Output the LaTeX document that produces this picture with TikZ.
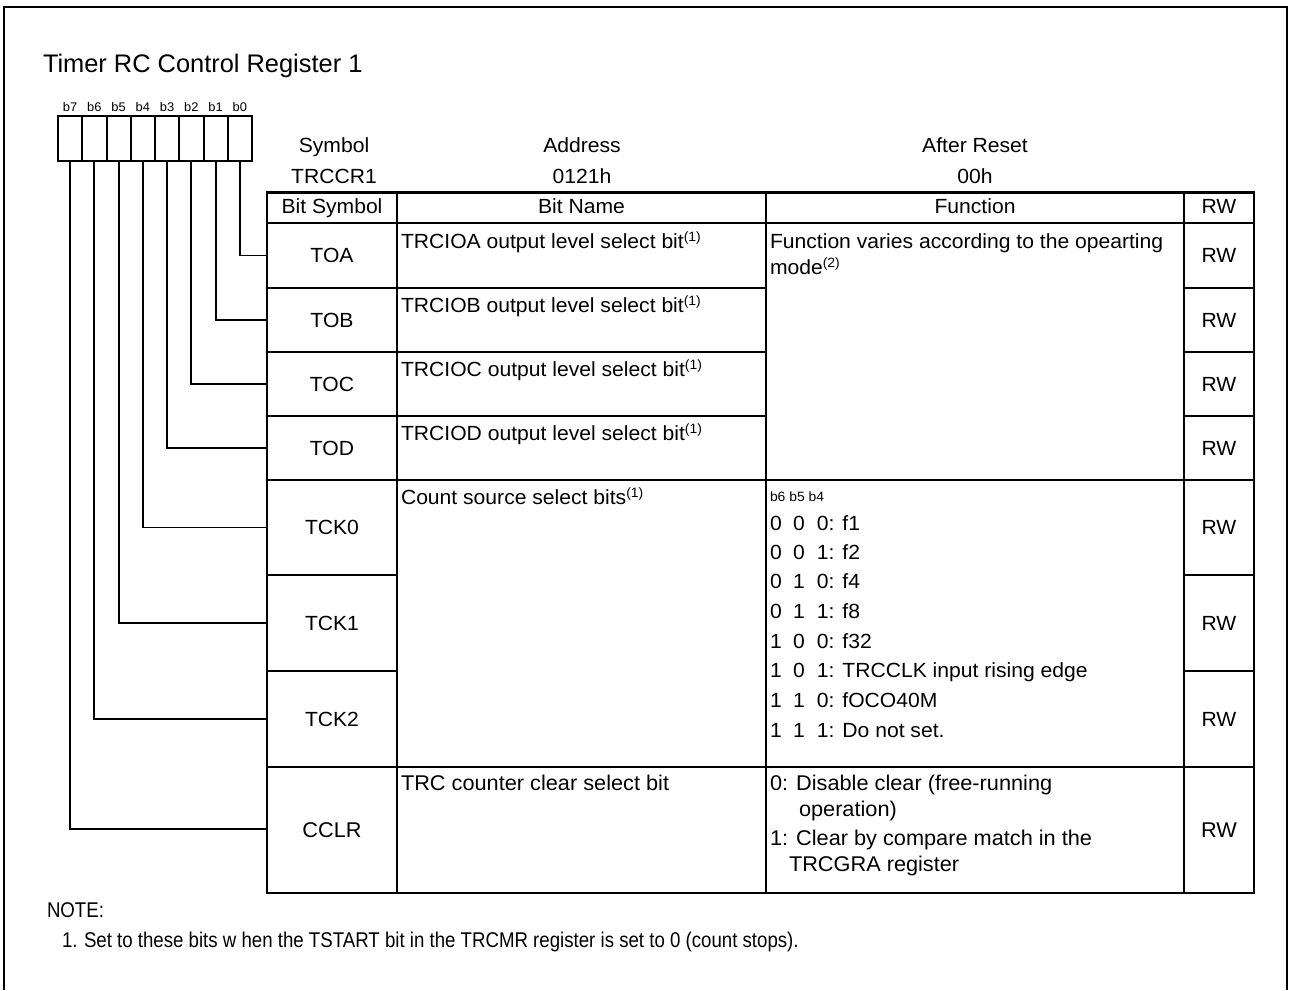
\documentclass[tikz,border=0pt]{standalone}
\usepackage{fontspec}
\setmainfont{Liberation Sans}[FakeStretch=1.03]
\newfontfamily\plainfont{Liberation Sans}
\newcommand\fnt{\fontsize{20.5}{24}\selectfont}
\newcommand\fnsm{\fontsize{12.5}{14}\selectfont}
\newcommand\fnsmb{\fontsize{13.5}{15}\selectfont}
\newcommand\fnttl{\plainfont\fontsize{25.4}{30}\selectfont}
\newcommand\fref[1]{\raisebox{7pt}{\fontsize{13.5}{14}\selectfont(#1)}}
\newcommand\bits[3]{\makebox[23pt][l]{#1}\makebox[24pt][l]{#2}#3}
\newcommand\wide[1]{\scalebox{1.06}[1.04]{\plainfont #1}}
\newcommand\narrow[1]{\scalebox{0.91}[1.04]{\plainfont #1}}
\begin{document}
\begin{tikzpicture}[x=1pt,y=-1pt,
  txt/.style={font=\fnt, inner sep=0pt, outer sep=0pt, anchor=base west},
  ctxt/.style={font=\fnt, inner sep=0pt, outer sep=0pt, anchor=base},
  cell/.style={draw, line width=2.4pt, inner sep=0pt, outer sep=0pt, anchor=north west, font=\fnt, text height=14.7pt, text depth=0pt},
  hcell/.style={cell, text height=15pt, text depth=4.5pt},
  bitcell/.style={draw, line width=2pt, inner sep=0pt, outer sep=0pt, anchor=north west, minimum width=24.25pt, minimum height=45pt},
  bitlbl/.style={font=\fnsm, inner sep=0pt, anchor=base},
  wire/.style={line width=1.8pt},
  frame/.style={line width=1.5pt}]
\useasboundingbox (0,0) rectangle (1289,990);
\draw[frame] (4,990) -- (4,7) -- (1287,7) -- (1287,990);

\node[txt, font=\fnttl] (title) at (43,72) {Timer RC Control Register 1};

% bit boxes
\foreach \i in {0,...,7} {
  \node[bitcell] (b\i) at ({58+24.25*(7-\i)},116) {};
  \node[bitlbl] (lb\i) at ({58+24.25*(7-\i)+12.1},111) {b\i};
}
\draw[line width=2.7pt] (b7.north west) rectangle (b0.south east);

% header texts
\node[ctxt] (hsymbol) at (334,152) {Symbol};
\node[ctxt] (vsymbol) at (334,183) {TRCCR1};
\node[ctxt] (haddr) at (582,152) {Address};
\node[ctxt] (vaddr) at (582,183) {0121h};
\node[ctxt] (hreset) at (975,152) {After Reset};
\node[ctxt] (vreset) at (975,183) {00h};

% header row
\node[hcell, minimum width=130pt, minimum height=30.5pt] (hbs) at (267,192.5) {Bit Symbol};
\node[hcell, minimum width=369pt, minimum height=30.5pt] (hbn) at (397,192.5) {Bit Name};
\node[hcell, minimum width=418pt, minimum height=30.5pt] (hfn) at (766,192.5) {Function};
\node[hcell, minimum width=70pt, minimum height=30.5pt] (hrw) at (1184,192.5) {RW};

% bit symbol cells
\node[cell, minimum width=130pt, minimum height=65pt] (toa) at (267,223) {TOA};
\node[cell, minimum width=130pt, minimum height=64pt] (tob) at (267,288) {TOB};
\node[cell, minimum width=130pt, minimum height=64pt] (toc) at (267,352) {TOC};
\node[cell, minimum width=130pt, minimum height=64pt] (tod) at (267,416) {TOD};
\node[cell, minimum width=130pt, minimum height=95pt] (tck0) at (267,480) {TCK0};
\node[cell, minimum width=130pt, minimum height=96pt] (tck1) at (267,575) {TCK1};
\node[cell, minimum width=130pt, minimum height=96pt] (tck2) at (267,671) {TCK2};
\node[cell, minimum width=130pt, minimum height=126pt] (cclr) at (267,767) {\wide{CCLR}};

% connectors
\draw[wire] (b0.south) |- (toa.west);
\draw[wire] (b1.south) |- (tob.west);
\draw[wire] (b2.south) |- (toc.west);
\draw[wire] (b3.south) |- (tod.west);
\draw[wire] (b4.south) |- (tck0.west);
\draw[wire] (b5.south) |- (tck1.west);
\draw[wire] (b6.south) |- (tck2.west);
\draw[wire] (b7.south) |- ([yshift=1pt]cclr.west);

% RW cells
\node[cell, minimum width=70pt, minimum height=65pt] (rwa) at (1184,223) {RW};
\node[cell, minimum width=70pt, minimum height=64pt] (rwb) at (1184,288) {RW};
\node[cell, minimum width=70pt, minimum height=64pt] (rwc) at (1184,352) {RW};
\node[cell, minimum width=70pt, minimum height=64pt] (rwd) at (1184,416) {RW};
\node[cell, minimum width=70pt, minimum height=95pt] (rwk0) at (1184,480) {RW};
\node[cell, minimum width=70pt, minimum height=96pt] (rwk1) at (1184,575) {RW};
\node[cell, minimum width=70pt, minimum height=96pt] (rwk2) at (1184,671) {RW};
\node[cell, minimum width=70pt, minimum height=126pt] (rwcl) at (1184,767) {\wide{RW}};

% bit name cells
\node[cell, minimum width=369pt, minimum height=65pt] (na) at (397,223) {};
\node[cell, minimum width=369pt, minimum height=64pt] (nb) at (397,288) {};
\node[cell, minimum width=369pt, minimum height=64pt] (nc) at (397,352) {};
\node[cell, minimum width=369pt, minimum height=64pt] (nd) at (397,416) {};
\node[cell, minimum width=369pt, minimum height=287pt] (nk) at (397,480) {};
\node[cell, minimum width=369pt, minimum height=126pt] (ncl) at (397,767) {};

% function cells
\node[cell, minimum width=418pt, minimum height=257pt] (fo) at (766,223) {};
\node[cell, minimum width=418pt, minimum height=287pt] (fk) at (766,480) {};
\node[cell, minimum width=418pt, minimum height=126pt] (fcl) at (766,767) {};

% bit name texts
\node[txt] (tna) at (401,248) {TRCIOA output level select bit\fref{1}};
\node[txt] (tnb) at (401,312) {TRCIOB output level select bit\fref{1}};
\node[txt] (tnc) at (401,376) {TRCIOC output level select bit\fref{1}};
\node[txt] (tnd) at (401,440) {TRCIOD output level select bit\fref{1}};
\node[txt] (tnk) at (401,504) {Count source select bits\fref{1}};
\node[txt] (tncl) at (401,790) {\wide{TRC counter clear select bit}};

% function texts
\node[txt] (tfo1) at (770,248) {Function varies according to the opearting};
\node[txt] (tfo2) at (770,274) {mode\fref{2}};
\node[txt, font=\fnsmb] (tfk0) at (770,501.5) {b6 b5 b4};
\node[txt] (tfk1) at (770,530) {\bits{0}{0}{0: f1}};
\node[txt] (tfk2) at (770,559.3) {\bits{0}{0}{1: f2}};
\node[txt] (tfk3) at (770,588.5) {\bits{0}{1}{0: f4}};
\node[txt] (tfk4) at (770,618) {\bits{0}{1}{1: f8}};
\node[txt] (tfk5) at (770,648) {\bits{1}{0}{0: f32}};
\node[txt] (tfk6) at (770,677.5) {\bits{1}{0}{1: TRCCLK input rising edge}};
\node[txt] (tfk7) at (770,707.5) {\bits{1}{1}{0: fOCO40M}};
\node[txt] (tfk8) at (770,737) {\bits{1}{1}{1: Do not set.}};
\node[txt] (tfc1) at (770,790) {\wide{0: Disable clear (free-running}};
\node[txt] (tfc2) at (799,816) {\wide{operation)}};
\node[txt] (tfc3) at (770,845) {\wide{1: Clear by compare match in the}};
\node[txt] (tfc4) at (789,871) {\wide{TRCGRA register}};

% notes
\node[txt] (note) at (47,917) {\narrow{NOTE:}};
\node[txt] (n1) at (62,947) {\narrow{1.}};
\node[txt] (n1t) at (84,947) {\narrow{Set to these bits w hen the TSTART bit in the TRCMR register is set to 0 (count stops).}};
\end{tikzpicture}
\end{document}
